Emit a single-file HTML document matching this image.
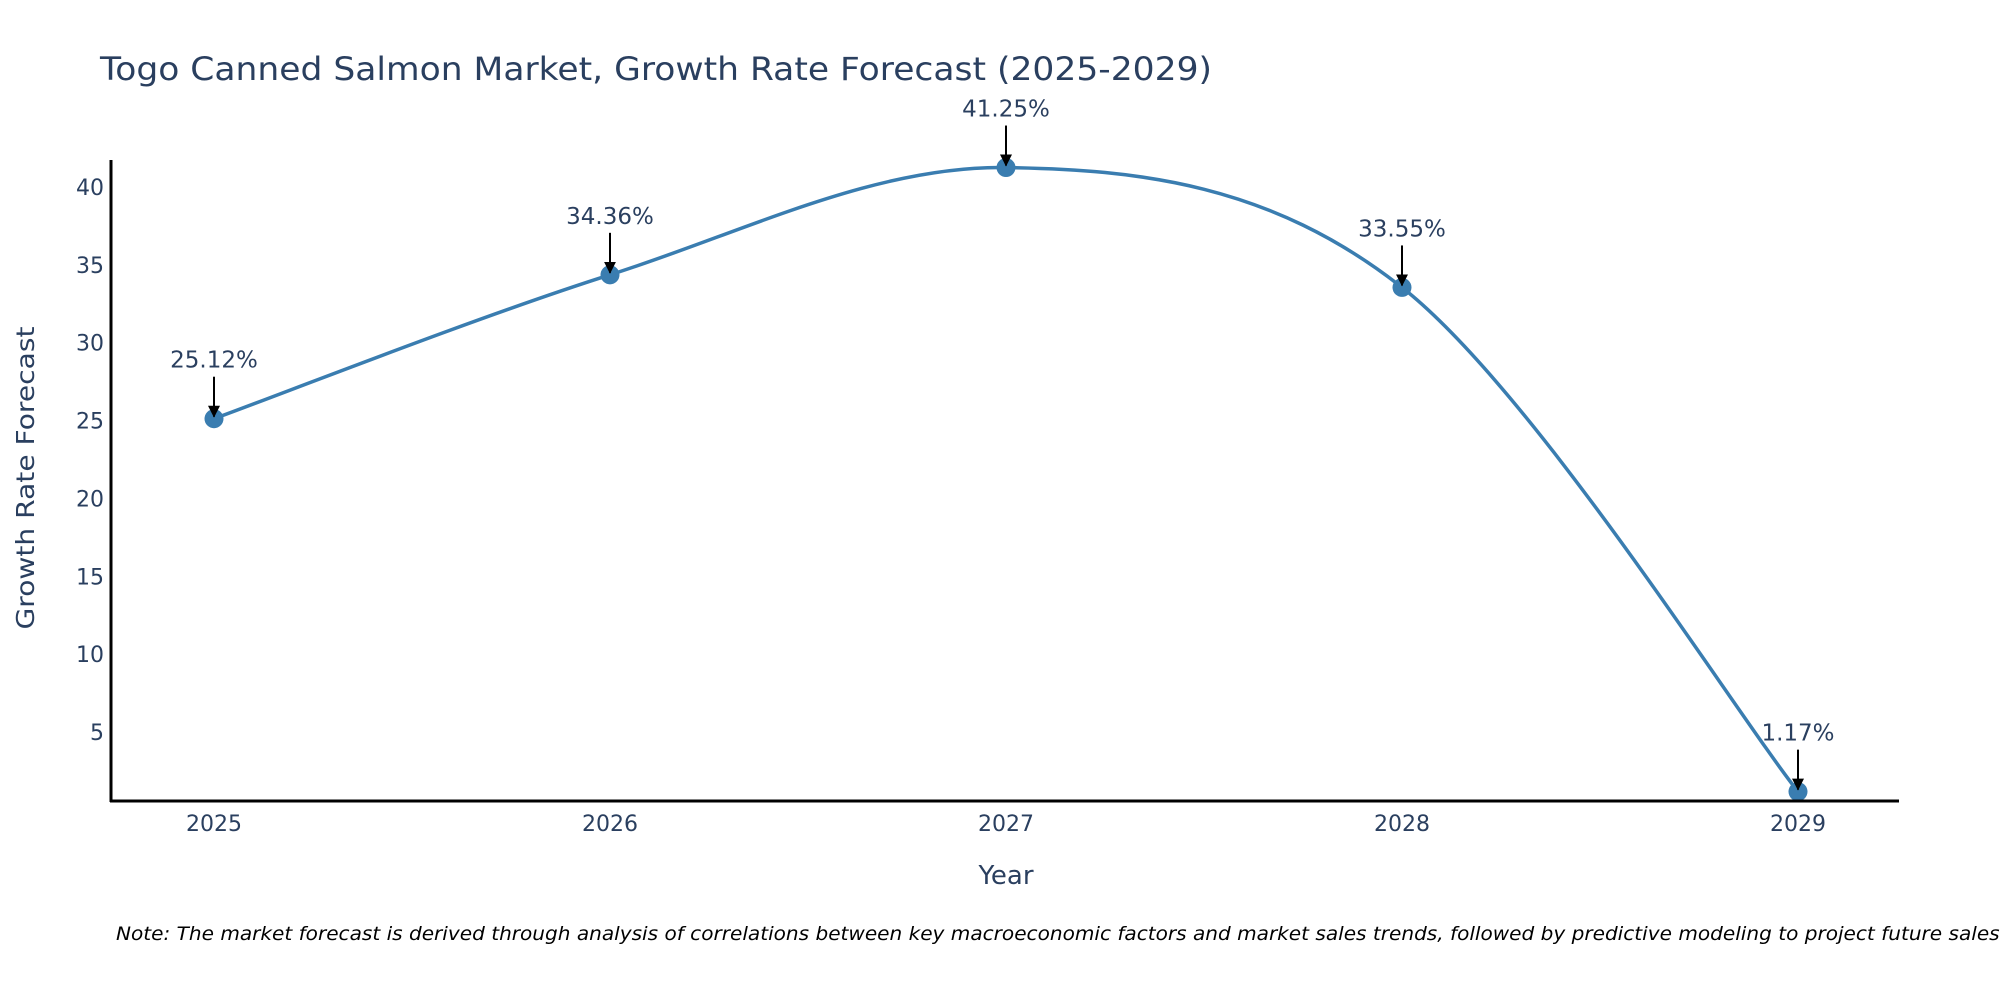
<!DOCTYPE html>
<html><head><meta charset="utf-8"><style>
body{margin:0;background:#fff;}
svg{display:block;font-family:"DejaVu Sans","Liberation Sans",sans-serif;}
</style></head><body>
<svg id="chart" width="2000" height="1000" viewBox="0 0 2000 1000">
<defs><marker id="ah" markerWidth="12" markerHeight="12" refX="11" refY="6" orient="auto" markerUnits="userSpaceOnUse"><path d="M0,0 L12,6 L0,12 Z" fill="#000"/></marker></defs>
<text x="100" y="80" font-size="32" fill="#2a3f5f" textLength="1112" lengthAdjust="spacingAndGlyphs">Togo Canned Salmon Market, Growth Rate Forecast (2025-2029)</text>
<g id="grid"></g>
<g id="series"></g>
<line x1="111" y1="160" x2="111" y2="802" stroke="#000" stroke-width="3"/>
<line x1="110" y1="801" x2="1899" y2="801" stroke="#000" stroke-width="3"/>
<text x="1006" y="884" font-size="26" fill="#2a3f5f" text-anchor="middle">Year</text>
<text transform="translate(34,478) rotate(-90)" font-size="25" fill="#2a3f5f" text-anchor="middle" textLength="303" lengthAdjust="spacingAndGlyphs">Growth Rate Forecast</text>
<text x="116" y="940" font-size="19" font-style="italic" fill="#000" textLength="1890" lengthAdjust="spacingAndGlyphs">Note: The market forecast is derived through analysis of correlations between key macroeconomic factors and market sales trends, followed by predictive modeling to project future sales.</text>
</svg>
<script>
const years = ["2025","2026","2027","2028","2029"];
const values = [25.12, 34.36, 41.25, 33.55, 1.17];
const labels = ["25.12%","34.36%","41.25%","33.55%","1.17%"];
const yTicks = [5,10,15,20,25,30,35,40];

const NS = "http://www.w3.org/2000/svg";
function xPos(i){ return 214 + i*396; }
function yPos(v){ return 732 - (v-5)*(545/35); }
function mk(tag, attrs, parent){ const e=document.createElementNS(NS,tag); for(const k in attrs) e.setAttribute(k,attrs[k]); parent.appendChild(e); return e; }

const grid = document.getElementById('grid');
yTicks.forEach(t=>{
  const tx = mk('text',{x:104,y:yPos(t)+8,'font-size':22,fill:'#2a3f5f','text-anchor':'end'},grid);
  tx.textContent = t;
  
  
});
years.forEach((y,i)=>{
  const tx = mk('text',{x:xPos(i),y:831,'font-size':22,fill:'#2a3f5f','text-anchor':'middle'},grid);
  tx.textContent = y;
  
  
});

const s = document.getElementById('series');
const pts = values.map((v,i)=>[xPos(i), yPos(v)]);
let d = `M${pts[0][0]},${pts[0][1]}`;
const tension = 0.5;
for(let i=0;i<pts.length-1;i++){
  const p0=pts[Math.max(i-1,0)], p1=pts[i], p2=pts[i+1], p3=pts[Math.min(i+2,pts.length-1)];
  const c1=[p1[0]+(p2[0]-p0[0])*tension/3, p1[1]+(p2[1]-p0[1])*tension/3];
  const c2=[p2[0]-(p3[0]-p1[0])*tension/3, p2[1]-(p3[1]-p1[1])*tension/3];
  d += ` C${c1[0]},${c1[1]} ${c2[0]},${c2[1]} ${p2[0]},${p2[1]}`;
}
const line = mk('path',{d:d,fill:'none',stroke:'#3a7db0','stroke-width':3.5},s);



pts.forEach((p,i)=>{
  const c = mk('circle',{cx:p[0],cy:p[1],r:9.5,fill:'#3a7db0'},s);
  
  
  const a = mk('line',{x1:p[0],y1:p[1]-42,x2:p[0],y2:p[1]-2,stroke:'#000','stroke-width':2,'marker-end':'url(#ah)'},s);
  
  
  const t = mk('text',{x:p[0],y:p[1]-51,'font-size':23,fill:'#2a3f5f','text-anchor':'middle'},s);
  t.textContent = labels[i];
  
  
});
</script>
</body></html>
